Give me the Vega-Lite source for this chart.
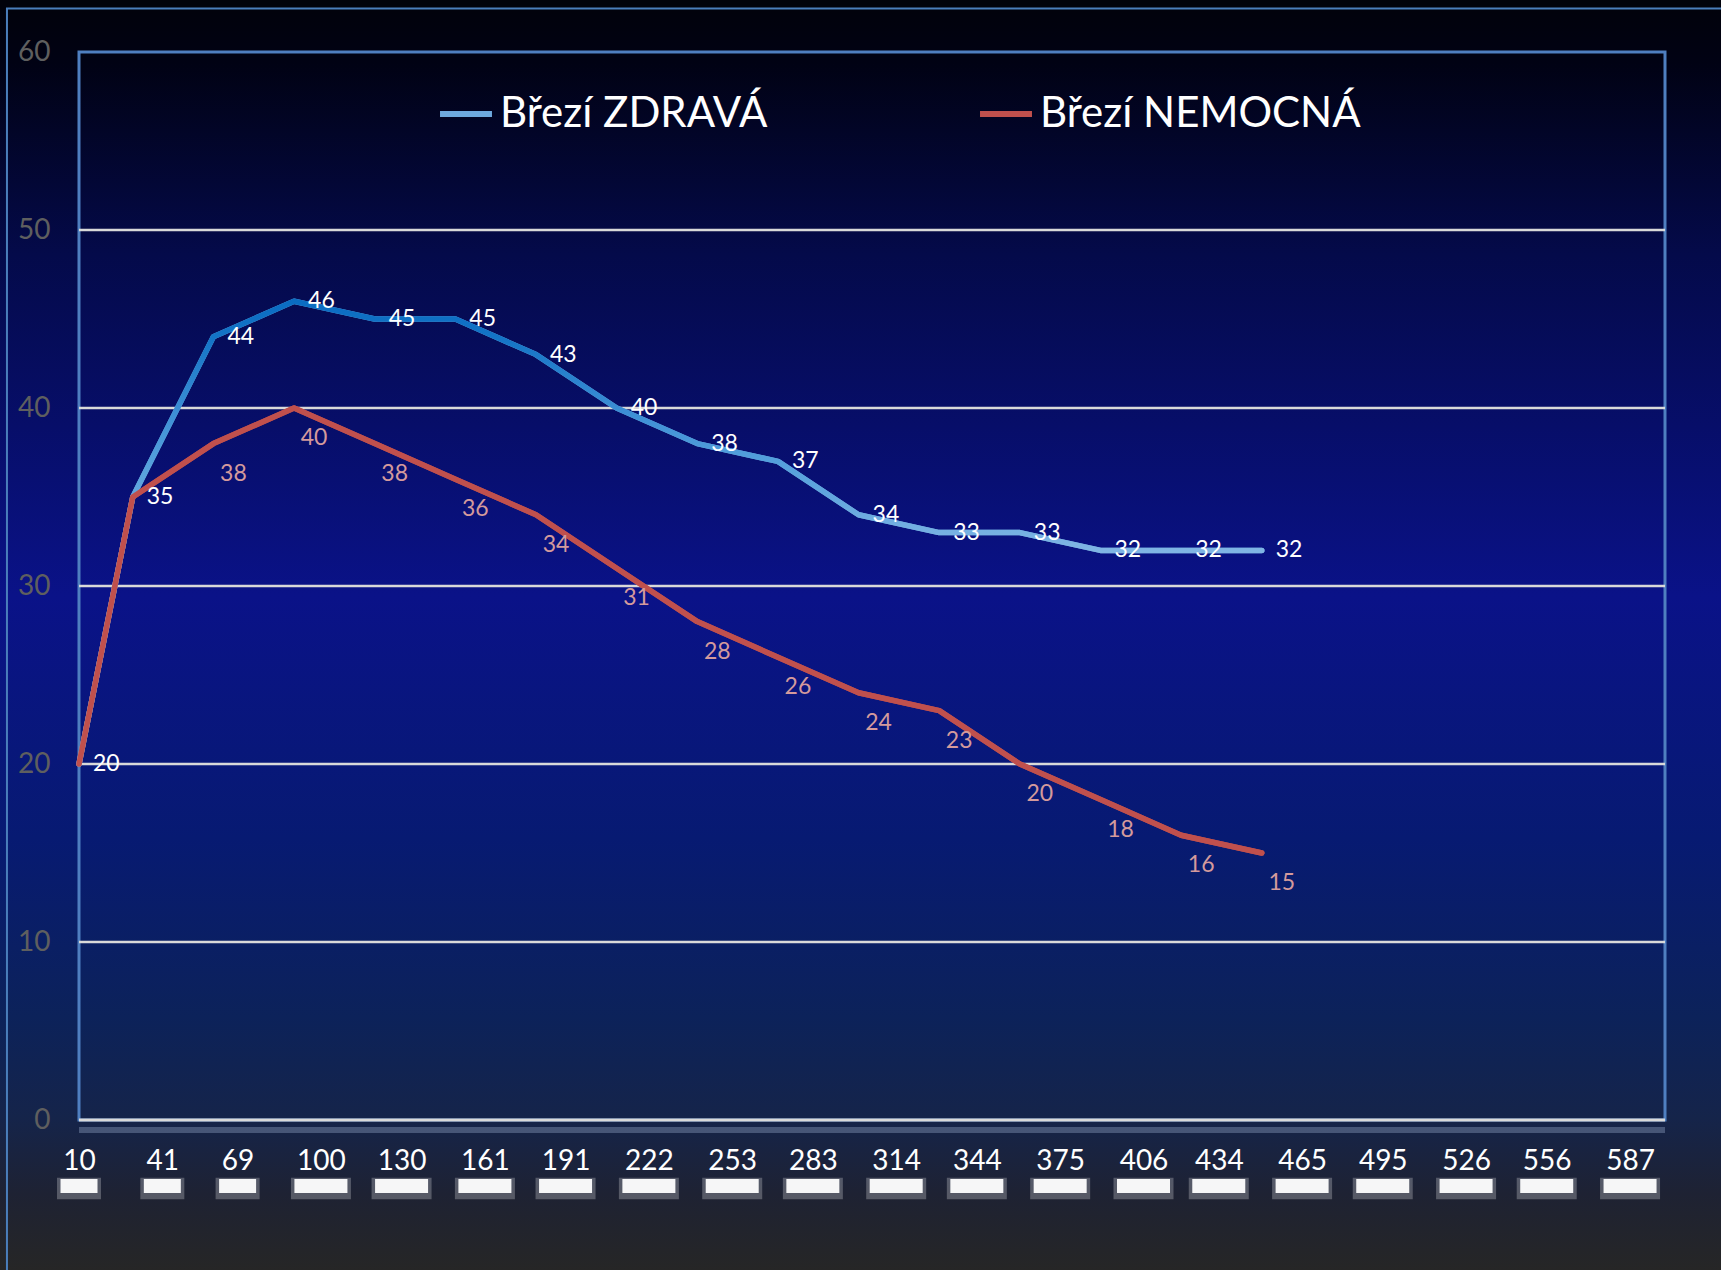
{
  "$schema": "https://vega.github.io/schema/vega-lite/v6.json",
  "width": 1721,
  "height": 1270,
  "autosize": {"type": "none"},
  "padding": 0,
  "background": "#01020a",
  "config": {
    "view": {
      "stroke": null,
      "fill": {
        "gradient": "linear", "x1": 0, "y1": 0, "x2": 0, "y2": 1,
        "stops": [
          {"offset": 0, "color": "#01020a"},
          {"offset": 0.05, "color": "#010214"},
          {"offset": 0.2, "color": "#040a4a"},
          {"offset": 0.47, "color": "#0a1288"},
          {"offset": 0.66, "color": "#071a72"},
          {"offset": 0.8, "color": "#0c225a"},
          {"offset": 0.88, "color": "#15244a"},
          {"offset": 0.94, "color": "#1e2233"},
          {"offset": 1, "color": "#262626"}
        ]
      }
    },
    "font": "Lato",
    "axis": {"ticks": false, "grid": false, "domain": false, "labelFont": "Lato", "labelFontSize": 28},
    "axisX": {"labelColor": "#ffffff", "labelPadding": 27, "labelFlush": false, "labelOverlap": false, "offset": -150},
    "axisY": {"labelColor": "#5f5f5f", "labelPadding": 29, "offset": -79}
  },
  "datasets": {
    "rady": [
      {"den": 10, "hodnota": 20, "serie": "Březí ZDRAVÁ"},
      {"den": 30, "hodnota": 35, "serie": "Březí ZDRAVÁ"},
      {"den": 60, "hodnota": 44, "serie": "Březí ZDRAVÁ"},
      {"den": 90, "hodnota": 46, "serie": "Březí ZDRAVÁ"},
      {"den": 120, "hodnota": 45, "serie": "Březí ZDRAVÁ"},
      {"den": 150, "hodnota": 45, "serie": "Březí ZDRAVÁ"},
      {"den": 180, "hodnota": 43, "serie": "Březí ZDRAVÁ"},
      {"den": 210, "hodnota": 40, "serie": "Březí ZDRAVÁ"},
      {"den": 240, "hodnota": 38, "serie": "Březí ZDRAVÁ"},
      {"den": 270, "hodnota": 37, "serie": "Březí ZDRAVÁ"},
      {"den": 300, "hodnota": 34, "serie": "Březí ZDRAVÁ"},
      {"den": 330, "hodnota": 33, "serie": "Březí ZDRAVÁ"},
      {"den": 360, "hodnota": 33, "serie": "Březí ZDRAVÁ"},
      {"den": 390, "hodnota": 32, "serie": "Březí ZDRAVÁ"},
      {"den": 420, "hodnota": 32, "serie": "Březí ZDRAVÁ"},
      {"den": 450, "hodnota": 32, "serie": "Březí ZDRAVÁ"},
      {"den": 10, "hodnota": 20, "serie": "Březí NEMOCNÁ"},
      {"den": 30, "hodnota": 35, "serie": "Březí NEMOCNÁ"},
      {"den": 60, "hodnota": 38, "serie": "Březí NEMOCNÁ"},
      {"den": 90, "hodnota": 40, "serie": "Březí NEMOCNÁ"},
      {"den": 120, "hodnota": 38, "serie": "Březí NEMOCNÁ"},
      {"den": 150, "hodnota": 36, "serie": "Březí NEMOCNÁ"},
      {"den": 180, "hodnota": 34, "serie": "Březí NEMOCNÁ"},
      {"den": 210, "hodnota": 31, "serie": "Březí NEMOCNÁ"},
      {"den": 240, "hodnota": 28, "serie": "Březí NEMOCNÁ"},
      {"den": 270, "hodnota": 26, "serie": "Březí NEMOCNÁ"},
      {"den": 300, "hodnota": 24, "serie": "Březí NEMOCNÁ"},
      {"den": 330, "hodnota": 23, "serie": "Březí NEMOCNÁ"},
      {"den": 360, "hodnota": 20, "serie": "Březí NEMOCNÁ"},
      {"den": 390, "hodnota": 18, "serie": "Březí NEMOCNÁ"},
      {"den": 420, "hodnota": 16, "serie": "Březí NEMOCNÁ"},
      {"den": 450, "hodnota": 15, "serie": "Březí NEMOCNÁ"}
    ],
    "znacky": [
      {"t": 10}, {"t": 41}, {"t": 69}, {"t": 100}, {"t": 130}, {"t": 161}, {"t": 191},
      {"t": 222}, {"t": 253}, {"t": 283}, {"t": 314}, {"t": 344}, {"t": 375}, {"t": 406},
      {"t": 434}, {"t": 465}, {"t": 495}, {"t": 526}, {"t": 556}, {"t": 587}
    ],
    "mrizka": [{"g": 10}, {"g": 20}, {"g": 30}, {"g": 40}, {"g": 50}]
  },
  "encoding": {
    "x": {
      "type": "quantitative",
      "scale": {"domain": [10, 600], "range": [79, 1665], "nice": false, "zero": false, "padding": 0},
      "axis": {"title": null, "values": [10, 41, 69, 100, 130, 161, 191, 222, 253, 283, 314, 344, 375, 406, 434, 465, 495, 526, 556, 587]}
    },
    "y": {
      "type": "quantitative",
      "scale": {"domain": [0, 60], "range": [1120, 52], "nice": false, "zero": true, "padding": 0},
      "axis": {"title": null, "values": [0, 10, 20, 30, 40, 50, 60]}
    }
  },
  "layer": [
    {
      "data": {"values": [{}]},
      "mark": {"type": "rect", "clip": false, "fill": null, "stroke": "#4a7ebb", "strokeWidth": 2},
      "encoding": {
        "x": {"datum": -16.8},
        "x2": {"datum": 640},
        "y": {"datum": 62.44},
        "y2": {"datum": -12}
      }
    },
    {
      "data": {"values": [{}]},
      "mark": {"type": "rect", "clip": false, "fill": null, "stroke": "#4f7fc0", "strokeWidth": 3},
      "encoding": {
        "x": {"datum": 10},
        "x2": {"datum": 600},
        "y": {"datum": 0},
        "y2": {"datum": 60}
      }
    },
    {
      "data": {"name": "mrizka"},
      "mark": {"type": "rule", "color": "#d9d9d9", "strokeWidth": 2.5},
      "encoding": {
        "x": {"datum": 10},
        "x2": {"datum": 600},
        "y": {"field": "g"}
      }
    },
    {
      "data": {"values": [{}]},
      "mark": {"type": "rule", "clip": false, "color": "#7080a0", "strokeWidth": 6, "opacity": 0.55},
      "encoding": {
        "x": {"datum": 10},
        "x2": {"datum": 600},
        "y": {"datum": -0.56}
      }
    },
    {
      "data": {"values": [{}]},
      "mark": {"type": "rule", "clip": false, "color": "#d9d9d9", "strokeWidth": 3},
      "encoding": {
        "x": {"datum": 10},
        "x2": {"datum": 600},
        "y": {"datum": 0}
      }
    },
    {
      "data": {"name": "znacky"},
      "transform": [{"filter": "datum.t < 100"}],
      "mark": {"type": "bar", "clip": false, "width": 44, "color": "#ffffff", "opacity": 0.25},
      "encoding": {
        "x": {"field": "t"},
        "y": {"datum": -3.25},
        "y2": {"datum": -4.45}
      }
    },
    {
      "data": {"name": "znacky"},
      "transform": [{"filter": "datum.t >= 100"}],
      "mark": {"type": "bar", "clip": false, "width": 60, "color": "#ffffff", "opacity": 0.25},
      "encoding": {
        "x": {"field": "t"},
        "y": {"datum": -3.25},
        "y2": {"datum": -4.45}
      }
    },
    {
      "data": {"name": "znacky"},
      "transform": [{"filter": "datum.t < 100"}],
      "mark": {"type": "bar", "clip": false, "width": 37, "color": "#ffffff", "opacity": 0.95},
      "encoding": {
        "x": {"field": "t"},
        "y": {"datum": -3.32},
        "y2": {"datum": -4.1}
      }
    },
    {
      "data": {"name": "znacky"},
      "transform": [{"filter": "datum.t >= 100"}],
      "mark": {"type": "bar", "clip": false, "width": 53, "color": "#ffffff", "opacity": 0.95},
      "encoding": {
        "x": {"field": "t"},
        "y": {"datum": -3.32},
        "y2": {"datum": -4.1}
      }
    },
    {
      "data": {"name": "rady"},
      "mark": {"type": "line", "strokeWidth": 5.5, "strokeCap": "round", "strokeJoin": "round"},
      "encoding": {
        "x": {"field": "den"},
        "y": {"field": "hodnota"},
        "color": {
          "field": "serie", "type": "nominal",
          "scale": {"domain": ["Březí ZDRAVÁ", "Březí NEMOCNÁ"], "range": ["#6ea9de", "#c0504d"]},
          "legend": {
            "title": null, "orient": "none", "legendX": 437, "legendY": 85,
            "direction": "horizontal", "columns": 2, "columnPadding": 200,
            "symbolType": "stroke", "symbolSize": 2700, "symbolStrokeWidth": 6,
            "labelFont": "Lato", "labelFontSize": 42, "labelColor": "#ffffff",
            "labelLimit": 600, "labelOffset": 5, "padding": 0
          }
        }
      }
    },
    {
      "data": {"name": "rady"},
      "transform": [{"filter": "datum.serie === 'Březí ZDRAVÁ'"}],
      "mark": {
        "type": "line", "strokeWidth": 5.5, "strokeCap": "round", "strokeJoin": "round",
        "stroke": {
          "gradient": "linear", "x1": 0, "y1": 0, "x2": 0, "y2": 1,
          "stops": [
            {"offset": 0, "color": "#0a6cc2"},
            {"offset": 0.08, "color": "#1474c6"},
            {"offset": 0.23, "color": "#3a8dd4"},
            {"offset": 0.35, "color": "#55a0dc"},
            {"offset": 0.42, "color": "#62a6de"},
            {"offset": 0.54, "color": "#80b5e4"},
            {"offset": 1, "color": "#80b5e4"}
          ]
        }
      },
      "encoding": {
        "x": {"field": "den"},
        "y": {"field": "hodnota"}
      }
    },
    {
      "data": {"name": "rady"},
      "transform": [{"filter": "datum.serie === 'Březí NEMOCNÁ'"}],
      "mark": {"type": "line", "strokeWidth": 5.5, "strokeCap": "round", "strokeJoin": "round", "stroke": "#c0504d"},
      "encoding": {
        "x": {"field": "den"},
        "y": {"field": "hodnota"}
      }
    },
    {
      "data": {"name": "rady"},
      "transform": [{"filter": "datum.serie === 'Březí ZDRAVÁ'"}],
      "mark": {"type": "text", "align": "left", "baseline": "middle", "dx": 14, "dy": 0, "font": "Lato", "fontSize": 23, "color": "#ffffff"},
      "encoding": {
        "x": {"field": "den"},
        "y": {"field": "hodnota"},
        "text": {"field": "hodnota", "type": "quantitative"}
      }
    },
    {
      "data": {"name": "rady"},
      "transform": [{"filter": "datum.serie === 'Březí NEMOCNÁ' && datum.den >= 60"}],
      "mark": {"type": "text", "align": "center", "baseline": "middle", "dx": 20, "dy": 30, "font": "Lato", "fontSize": 23, "color": "#d49a9c"},
      "encoding": {
        "x": {"field": "den"},
        "y": {"field": "hodnota"},
        "text": {"field": "hodnota", "type": "quantitative"}
      }
    }
  ]
}
